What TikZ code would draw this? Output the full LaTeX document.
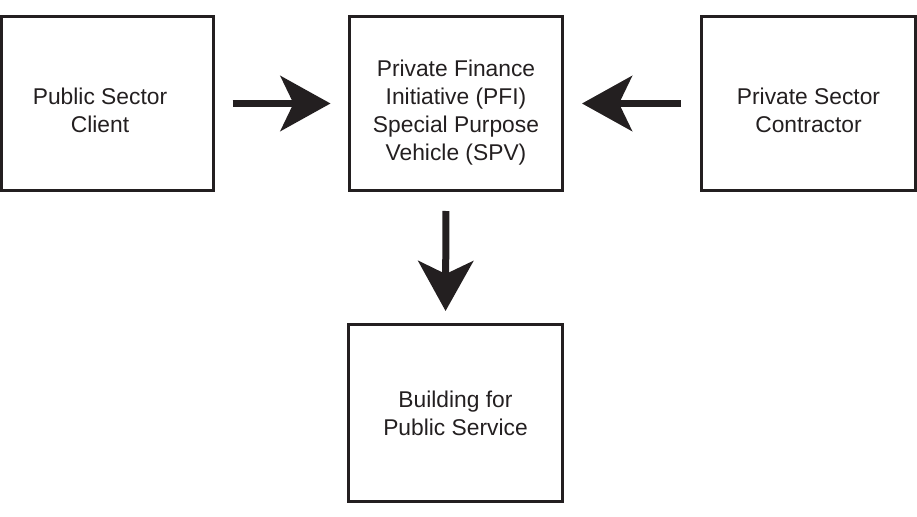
\documentclass[tikz,border=0pt]{standalone}
\usepackage{fontspec}
\setmainfont{Liberation Sans}
\usetikzlibrary{arrows.meta}
\definecolor{ink}{HTML}{231F20}
\begin{document}
\begin{tikzpicture}[x=1pt,y=-1pt,
  box/.style={draw=ink, line width=3pt, minimum width=#1, inner sep=0pt},
  lbl/.style={text=ink, align=center, font=\fontsize{22.8}{28}\selectfont, inner sep=0pt},
  arr/.style={draw=ink, line width=7pt, -{Stealth[length=50pt, width=55pt, inset=13pt]}}
]
\useasboundingbox (0,0) rectangle (917,516);
\node[box=212pt, minimum height=174pt] (pub) at (107.5,103.5) {};
\node[box=213pt, minimum height=174pt] (spv) at (456,103.5) {};
\node[box=214pt, minimum height=174pt] (con) at (808.5,103.5) {};
\node[box=214pt, minimum height=177pt] (bld) at (455.5,413) {};
\node[lbl] (tpub) at ([xshift=-7.5pt,yshift=-6.5pt]pub.center) {Public Sector\\Client};
\node[lbl] (tspv) at ([yshift=-9.5pt]spv.center) {Private Finance\\Initiative (PFI)\\Special Purpose\\Vehicle (SPV)};
\node[lbl] (tcon) at ([yshift=-6.5pt]con.center) {Private Sector\\Contractor};
\node[lbl] (tbld) at (bld.center) {Building for\\Public Service};
\draw[arr, shorten <=17.5pt, shorten >=17.5pt] (pub.east) -- (spv.west);
\draw[arr, shorten <=19.5pt, shorten >=18pt] (con.west) -- (spv.east);
\draw[arr, shorten <=19pt, shorten >=12pt] ([xshift=-10pt]spv.south) -- ([xshift=-10pt]bld.north);
\end{tikzpicture}
\end{document}
